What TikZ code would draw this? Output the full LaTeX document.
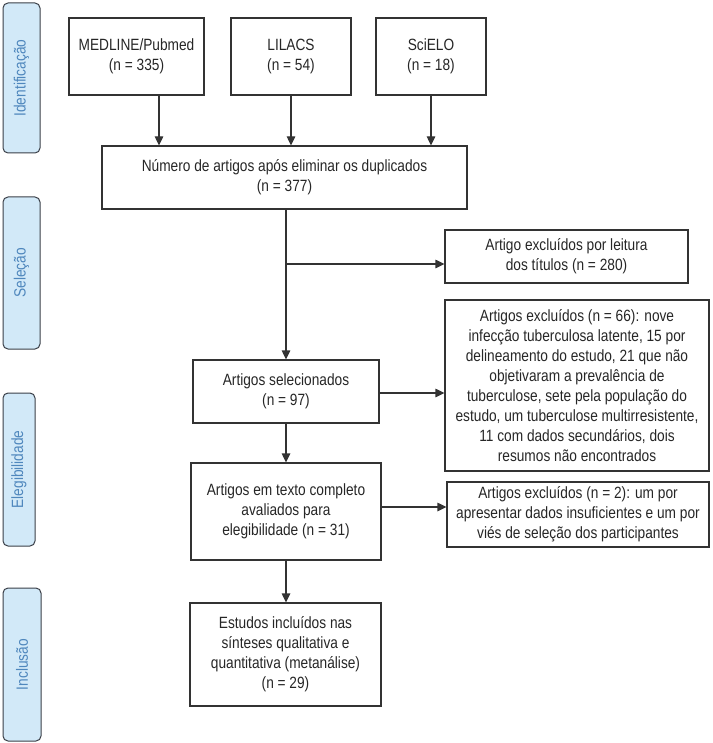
\documentclass[tikz,border=0pt]{standalone}
\usepackage{fontspec}
\setmainfont[FakeStretch=0.84]{Liberation Sans}
\usetikzlibrary{arrows.meta}
\definecolor{sidefill}{HTML}{D2E9F8}
\definecolor{sidetext}{HTML}{4F87BD}
\definecolor{sideline}{HTML}{3A3F48}
\definecolor{boxline}{HTML}{333333}
\tikzset{
  box/.style={draw=boxline, line width=1.2pt, align=center, inner sep=0pt, font=\fontsize{16.3}{20}\selectfont, text=black!85},
  side/.style={draw=sideline, fill=sidefill, line width=1pt, rounded corners=5pt},
  sidelabel/.style={rotate=90, text=sidetext, font=\fontsize{16.3}{18}\selectfont},
  arr/.style={draw=boxline, line width=1.2pt, -{Triangle[length=9pt,width=8.5pt]}},
  ln/.style={draw=boxline, line width=1.2pt}
}
\begin{document}
\begin{tikzpicture}[x=1pt,y=-1pt]
\useasboundingbox (0,0) rectangle (712,743);
% side bands
\draw[side] (3,3) rectangle (40,153);
\node[sidelabel] (sid1) at (21.5,78) {Identificação};
\draw[side] (3,197) rectangle (40,349);
\node[sidelabel] (sid2) at (21.5,273) {Seleção};
\draw[side] (3,393) rectangle (35,546);
\node[sidelabel] (sid3) at (19,469.5) {Elegibilidade};
\draw[side] (3,588) rectangle (41,741);
\node[sidelabel] (sid4) at (22,664.5) {Inclusão};
% boxes
\node[box, minimum width=135pt, minimum height=77pt] (med) at (136.5,56.5) {MEDLINE/Pubmed\\(n = 335)};
\node[box, minimum width=120pt, minimum height=77pt] (lil) at (291,56.5) {LILACS\\(n = 54)};
\node[box, minimum width=110pt, minimum height=77pt] (sci) at (431,56.5) {SciELO\\(n = 18)};
\node[box, minimum width=365pt, minimum height=63pt] (dup) at (284.5,177.5) {Número de artigos após eliminar os duplicados\\(n = 377)};
\node[box, minimum width=243pt, minimum height=53pt] (tit) at (566.5,256.5) {Artigo excluídos por leitura\\dos títulos (n = 280)};
\node[box, minimum width=186pt, minimum height=63pt] (sel) at (286,391.5) {Artigos selecionados\\(n = 97)};
\node[box, minimum width=264pt, minimum height=171pt] (n66) at (577,385.5) {Artigos excluídos (n = 66): nove\\infecção tuberculosa latente, 15 por\\delineamento do estudo, 21 que não\\objetivaram a prevalência de\\tuberculose, sete pela população do\\estudo, um tuberculose multirresistente,\\11 com dados secundários, dois\\resumos não encontrados};
\node[box, minimum width=190pt, minimum height=97pt] (comp) at (286,511.5) {Artigos em texto completo\\avaliados para\\elegibilidade (n = 31)};
\node[box, minimum width=262pt, minimum height=65pt] (n2) at (578,514.5) {Artigos excluídos (n = 2): um por\\apresentar dados insuficientes e um por\\viés de seleção dos participantes};
\node[box, minimum width=191pt, minimum height=103pt] (est) at (285.5,654.5) {Estudos incluídos nas\\sínteses qualitativa e\\quantitativa (metanálise)\\(n = 29)};
% connectors
\coordinate (mb) at (159,95);
\draw[arr] (mb) -- (mb |- dup.north);
\draw[arr] (lil.south) -- (lil.south |- dup.north);
\draw[arr] (sci.south) -- (sci.south |- dup.north);
\coordinate (br) at (286,264);
\draw[arr] (dup.south -| sel.north) -- (sel.north);
\draw[arr] (br) -- (br -| tit.west);
\draw[arr] (sel.east |- 0,393) -- (n66.west |- 0,393);
\draw[arr] (sel.south) -- (comp.north);
\draw[arr] (comp.east |- 0,507) -- (n2.west |- 0,507);
\draw[arr] (comp.south) -- (comp.south |- est.north);
\end{tikzpicture}
\end{document}
